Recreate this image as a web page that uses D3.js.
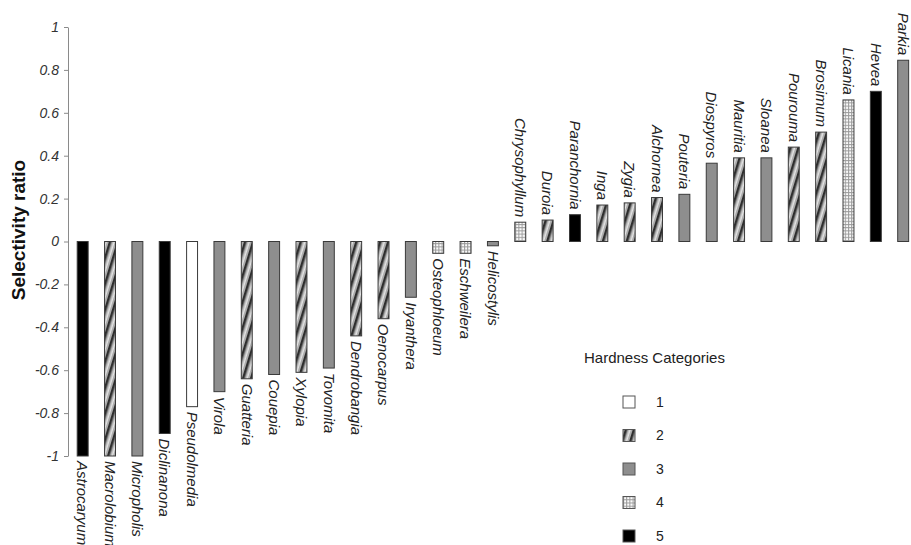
<!DOCTYPE html>
<html>
<head>
<meta charset="utf-8">
<script src="https://cdn.jsdelivr.net/npm/d3@7"></script>
<style>
  html, body { margin: 0; padding: 0; background: #fff; }
  svg { display: block; font-family: "Liberation Sans", Arial, sans-serif; }
</style>
</head>
<body>
<svg id="chart" width="911" height="545"></svg>
<script>
// Genera, ordered by selectivity ratio
const genera = [
  "Astrocaryum", "Macrolobium", "Micropholis", "Diclinanona", "Pseudolmedia",
  "Virola", "Guatteria", "Couepia", "Xylopia", "Tovomita", "Dendrobangia",
  "Oenocarpus", "Iryanthera", "Osteophloeum", "Eschweilera", "Helicostylis",
  "Chrysophyllum", "Duroia", "Paranchornia", "Inga", "Zygia", "Alchornea",
  "Pouteria", "Diospyros", "Mauritia", "Sloanea", "Pourouma", "Brosimum",
  "Licania", "Hevea", "Parkia"
];
const selectivity = [
  -1.0, -1.0, -1.0, -0.895, -0.77,
  -0.70, -0.64, -0.62, -0.61, -0.59, -0.44,
  -0.36, -0.26, -0.055, -0.055, -0.02,
  0.09, 0.10, 0.125, 0.17, 0.18, 0.205,
  0.22, 0.365, 0.39, 0.39, 0.44, 0.51,
  0.66, 0.70, 0.845
];
const hardness = [
  5, 2, 3, 5, 1,
  3, 2, 3, 2, 3, 2,
  2, 3, 4, 4, 3,
  4, 2, 5, 2, 2, 2,
  3, 3, 2, 3, 2, 2,
  4, 5, 3
];
const hardnessCategories = [1, 2, 3, 4, 5];
const yTicks = [1, 0.8, 0.6, 0.4, 0.2, 0, -0.2, -0.4, -0.6, -0.8, -1];
const yTickLabels = ["1", "0.8", "0.6", "0.4", "0.2", "0", "-0.2", "-0.4", "-0.6", "-0.8", "-1"];

const svg = d3.select("#chart");
const defs = svg.append("defs");

// Fill patterns for the hardness categories
const stripe = defs.append("pattern")
  .attr("id", "hard2").attr("patternUnits", "userSpaceOnUse")
  .attr("width", 7.6).attr("height", 10)
  .attr("patternTransform", "rotate(17)");
stripe.append("rect").attr("width", 7.6).attr("height", 10).attr("fill", "#a9a9a9");
stripe.append("rect").attr("x", 0).attr("width", 2.4).attr("height", 10).attr("fill", "#2e2e2e");
stripe.append("rect").attr("x", 4.2).attr("width", 1.6).attr("height", 10).attr("fill", "#e4e4e4");

const grid = defs.append("pattern")
  .attr("id", "hard4").attr("patternUnits", "userSpaceOnUse")
  .attr("width", 3.2).attr("height", 3.2);
grid.append("rect").attr("width", 3.2).attr("height", 3.2).attr("fill", "#fbfbfb");
grid.append("path").attr("d", "M0,0.5H3.2M0.5,0V3.2")
  .attr("stroke", "#9a9a9a").attr("stroke-width", 1);

const fillFor = {
  1: "#ffffff",
  2: "url(#hard2)",
  3: "#8e8e8e",
  4: "url(#hard4)",
  5: "#000000"
};

// Scales
const y = d3.scaleLinear().domain([-1, 1]).range([456, 27]);
const x = d3.scaleBand().domain(genera)
  .range([69, 69 + genera.length * 27.35])
  .paddingInner(0.6).paddingOuter(0.3);

// Y axis
const yAxis = d3.axisLeft(y)
  .tickValues(yTicks)
  .tickFormat((d, i) => yTickLabels[i])
  .tickSize(4).tickSizeOuter(0).tickPadding(5);
const gAxis = svg.append("g").attr("transform", "translate(68,0)").call(yAxis);
gAxis.select(".domain").attr("stroke", "#8a8a8a");
gAxis.selectAll(".tick line").attr("stroke", "#8a8a8a");
gAxis.selectAll(".tick text")
  .attr("fill", "#333").attr("font-size", 14).attr("font-style", "italic")
  .attr("font-family", "Liberation Sans, Arial, sans-serif");

svg.append("text")
  .attr("transform", "translate(25,230) rotate(-90)")
  .attr("text-anchor", "middle")
  .attr("font-size", 19).attr("font-weight", "bold").attr("fill", "#111")
  .text("Selectivity ratio");

// Bars
const rows = genera.map((g, i) => ({ g, v: selectivity[i], h: hardness[i] }));
svg.append("g").selectAll("rect").data(rows).join("rect")
  .attr("x", d => x(d.g))
  .attr("width", x.bandwidth())
  .attr("y", d => Math.min(y(d.v), y(0)))
  .attr("height", d => Math.abs(y(d.v) - y(0)))
  .attr("fill", d => fillFor[d.h])
  .attr("stroke", "#3a3a3a").attr("stroke-width", 1);

// Genus labels, running downward
svg.append("g").selectAll("text").data(rows).join("text")
  .attr("transform", d => {
    const cx = x(d.g) + x.bandwidth() / 2;
    const ty = d.v < 0 ? y(d.v) + 5 : y(d.v) - 5;
    return `translate(${cx},${ty}) rotate(90)`;
  })
  .attr("dy", "0.35em")
  .attr("text-anchor", d => d.v < 0 ? "start" : "end")
  .attr("font-size", 15).attr("font-style", "italic").attr("fill", "#222")
  .text(d => d.g);

// Legend
const legend = svg.append("g");
legend.append("text")
  .attr("x", 584).attr("y", 363)
  .attr("font-size", 15).attr("fill", "#222")
  .text("Hardness Categories");
const ly = d3.scalePoint().domain(hardnessCategories).range([402, 536]);
const item = legend.selectAll("g.item").data(hardnessCategories).join("g")
  .attr("class", "item")
  .attr("transform", d => `translate(623,${ly(d)})`);
item.append("rect")
  .attr("x", 0).attr("y", -6).attr("width", 12).attr("height", 12)
  .attr("fill", d => fillFor[d]).attr("stroke", "#555").attr("stroke-width", 1);
item.append("text")
  .attr("x", 33).attr("dy", "0.35em")
  .attr("font-size", 14).attr("fill", "#222")
  .text(d => d);
</script>
</body>
</html>
